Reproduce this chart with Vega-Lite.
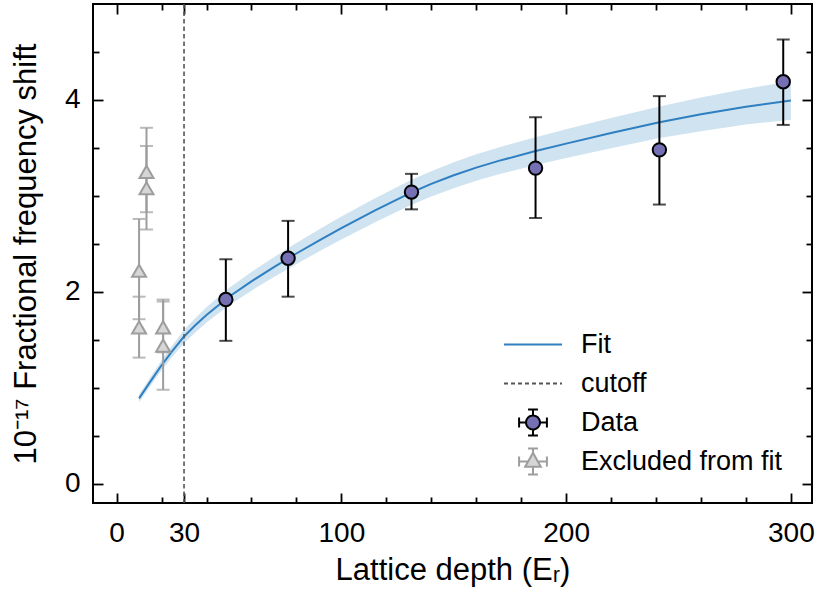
{
  "$schema": "https://vega.github.io/schema/vega-lite/v6.json",
  "width": 719,
  "height": 499,
  "autosize": {"type": "none"},
  "padding": {"left": 93, "top": 4, "right": 6, "bottom": 91},
  "background": "white",
  "datasets": {
    "fit": [
      {"x": 10, "y": 0.89, "lo": 0.85, "hi": 0.93},
      {"x": 15, "y": 1.065, "lo": 1.02, "hi": 1.11},
      {"x": 20, "y": 1.235, "lo": 1.183, "hi": 1.287},
      {"x": 25, "y": 1.39, "lo": 1.33, "hi": 1.45},
      {"x": 30, "y": 1.535, "lo": 1.467, "hi": 1.603},
      {"x": 35, "y": 1.652, "lo": 1.578, "hi": 1.726},
      {"x": 40, "y": 1.76, "lo": 1.68, "hi": 1.84},
      {"x": 50, "y": 1.95, "lo": 1.86, "hi": 2.04},
      {"x": 60, "y": 2.11, "lo": 2.013, "hi": 2.207},
      {"x": 70, "y": 2.258, "lo": 2.154, "hi": 2.362},
      {"x": 80, "y": 2.4, "lo": 2.29, "hi": 2.51},
      {"x": 90, "y": 2.535, "lo": 2.42, "hi": 2.65},
      {"x": 100, "y": 2.665, "lo": 2.545, "hi": 2.785},
      {"x": 115, "y": 2.85, "lo": 2.725, "hi": 2.975},
      {"x": 131, "y": 3.035, "lo": 2.905, "hi": 3.165},
      {"x": 140, "y": 3.125, "lo": 2.993, "hi": 3.257},
      {"x": 150, "y": 3.215, "lo": 3.08, "hi": 3.35},
      {"x": 160, "y": 3.295, "lo": 3.157, "hi": 3.433},
      {"x": 170, "y": 3.365, "lo": 3.225, "hi": 3.505},
      {"x": 186, "y": 3.465, "lo": 3.32, "hi": 3.61},
      {"x": 200, "y": 3.545, "lo": 3.395, "hi": 3.695},
      {"x": 220, "y": 3.655, "lo": 3.498, "hi": 3.812},
      {"x": 241, "y": 3.765, "lo": 3.6, "hi": 3.93},
      {"x": 260, "y": 3.85, "lo": 3.675, "hi": 4.025},
      {"x": 280, "y": 3.93, "lo": 3.743, "hi": 4.117},
      {"x": 300, "y": 3.995, "lo": 3.795, "hi": 4.195}
    ],
    "data": [
      {"x": 48.6, "y": 1.92, "lo": 1.49, "hi": 2.34},
      {"x": 76.3, "y": 2.35, "lo": 1.95, "hi": 2.74},
      {"x": 131.2, "y": 3.04, "lo": 2.86, "hi": 3.23},
      {"x": 186.4, "y": 3.29, "lo": 2.77, "hi": 3.82},
      {"x": 241.5, "y": 3.48, "lo": 2.91, "hi": 4.04},
      {"x": 296.6, "y": 4.19, "lo": 3.74, "hi": 4.63}
    ],
    "excluded": [
      {"x": 10, "y": 2.22, "lo": 1.715, "hi": 2.76},
      {"x": 10, "y": 1.63, "lo": 1.315, "hi": 1.95},
      {"x": 13.3, "y": 3.25, "lo": 2.83, "hi": 3.71},
      {"x": 13.3, "y": 3.08, "lo": 2.65, "hi": 3.52},
      {"x": 20.7, "y": 1.63, "lo": 1.37, "hi": 1.92},
      {"x": 20.7, "y": 1.44, "lo": 0.98, "hi": 1.9}
    ],
    "cutoff": [{"x": 30}],
    "legend": [
      {"series": "Fit"},
      {"series": "cutoff"},
      {"series": "Data"},
      {"series": "Excluded from fit"}
    ]
  },
  "resolve": {"axis": {"x": "independent", "y": "independent"}},
  "layer": [
    {
      "data": {"name": "fit"},
      "mark": {"type": "area", "color": "#cfe3f0", "opacity": 1},
      "encoding": {
        "x": {"field": "x", "type": "quantitative",
          "scale": {"domain": [-10.5, 309.4], "nice": false, "zero": false},
          "axis": {"orient": "bottom", "values": [0, 30, 100, 200, 300], "tickSize": -10, "labelPadding": 26, "labelFontSize": 28, "labelFlush": false, "labelOverlap": false, "title": "Lattice depth (Eᵣ)", "titleFontSize": 31, "titlePadding": 8}},
        "y": {"field": "lo", "type": "quantitative",
          "scale": {"domain": [-0.2, 5.0], "nice": false, "zero": false},
          "axis": {"orient": "left", "values": [0, 2, 4], "tickSize": -10, "labelPadding": 23, "labelFontSize": 28, "labelOverlap": false, "title": "10⁻¹⁷ Fractional frequency shift", "titleFontSize": 31, "titlePadding": 22}},
        "y2": {"field": "hi"}
      }
    },
    {
      "data": {"name": "fit"},
      "mark": {"type": "line", "color": "#2f7fc1", "strokeWidth": 2},
      "encoding": {
        "x": {"field": "x", "type": "quantitative",
          "scale": {"domain": [-10.5, 309.4], "nice": false, "zero": false},
          "axis": {"orient": "bottom", "values": [20, 40, 60, 80, 120, 140, 160, 180, 220, 240, 260, 280], "tickSize": -6, "labels": false, "title": null}},
        "y": {"field": "y", "type": "quantitative",
          "scale": {"domain": [-0.2, 5.0], "nice": false, "zero": false},
          "axis": {"orient": "left", "values": [0.5, 1, 1.5, 2.5, 3, 3.5, 4.5], "tickSize": -6, "labels": false, "title": null}}
      }
    },
    {
      "data": {"name": "cutoff"},
      "mark": {"type": "rule", "color": "#555555", "strokeWidth": 1.6, "strokeDash": [4.5, 3]},
      "encoding": {
        "x": {"field": "x", "type": "quantitative",
          "scale": {"domain": [-10.5, 309.4], "nice": false, "zero": false},
          "axis": {"orient": "top", "values": [0, 30, 100, 200, 300], "tickSize": -10, "labels": false, "title": null}}
      }
    },
    {
      "data": {"name": "excluded"},
      "mark": {"type": "rule", "color": "#9d9d9d", "strokeWidth": 2},
      "encoding": {
        "x": {"field": "x", "type": "quantitative",
          "scale": {"domain": [-10.5, 309.4], "nice": false, "zero": false},
          "axis": {"orient": "top", "values": [20, 40, 60, 80, 120, 140, 160, 180, 220, 240, 260, 280], "tickSize": -6, "labels": false, "title": null}},
        "y": {"field": "lo", "type": "quantitative",
          "scale": {"domain": [-0.2, 5.0], "nice": false, "zero": false},
          "axis": {"orient": "right", "values": [0, 2, 4], "tickSize": -10, "labels": false, "title": null}},
        "y2": {"field": "hi"}
      }
    },
    {
      "data": {"name": "excluded"},
      "transform": [{"fold": ["lo", "hi"], "as": ["bound", "v"]}],
      "mark": {"type": "tick", "orient": "horizontal", "color": "#9d9d9d", "size": 13, "thickness": 2},
      "encoding": {
        "x": {"field": "x", "type": "quantitative",
          "scale": {"domain": [-10.5, 309.4], "nice": false, "zero": false}, "axis": null},
        "y": {"field": "v", "type": "quantitative",
          "scale": {"domain": [-0.2, 5.0], "nice": false, "zero": false},
          "axis": {"orient": "right", "values": [0.5, 1, 1.5, 2.5, 3, 3.5, 4.5], "tickSize": -6, "labels": false, "title": null}}
      }
    },
    {
      "data": {"name": "excluded"},
      "mark": {"type": "point", "shape": "triangle-up", "filled": true, "fill": "#d6d6d6", "stroke": "#9d9d9d", "strokeWidth": 2, "size": 196, "opacity": 1},
      "encoding": {
        "x": {"field": "x", "type": "quantitative",
          "scale": {"domain": [-10.5, 309.4], "nice": false, "zero": false}, "axis": null},
        "y": {"field": "y", "type": "quantitative",
          "scale": {"domain": [-0.2, 5.0], "nice": false, "zero": false}, "axis": null}
      }
    },
    {
      "data": {"name": "data"},
      "mark": {"type": "rule", "color": "#000000", "strokeWidth": 2},
      "encoding": {
        "x": {"field": "x", "type": "quantitative",
          "scale": {"domain": [-10.5, 309.4], "nice": false, "zero": false}, "axis": null},
        "y": {"field": "lo", "type": "quantitative",
          "scale": {"domain": [-0.2, 5.0], "nice": false, "zero": false}, "axis": null},
        "y2": {"field": "hi"}
      }
    },
    {
      "data": {"name": "data"},
      "transform": [{"fold": ["lo", "hi"], "as": ["bound", "v"]}],
      "mark": {"type": "tick", "orient": "horizontal", "color": "#000000", "size": 13, "thickness": 2},
      "encoding": {
        "x": {"field": "x", "type": "quantitative",
          "scale": {"domain": [-10.5, 309.4], "nice": false, "zero": false}, "axis": null},
        "y": {"field": "v", "type": "quantitative",
          "scale": {"domain": [-0.2, 5.0], "nice": false, "zero": false}, "axis": null}
      }
    },
    {
      "data": {"name": "data"},
      "mark": {"type": "point", "shape": "circle", "filled": true, "fill": "#7570b3", "stroke": "#000000", "strokeWidth": 2, "size": 180, "opacity": 1},
      "encoding": {
        "x": {"field": "x", "type": "quantitative",
          "scale": {"domain": [-10.5, 309.4], "nice": false, "zero": false}, "axis": null},
        "y": {"field": "y", "type": "quantitative",
          "scale": {"domain": [-0.2, 5.0], "nice": false, "zero": false}, "axis": null}
      }
    },
    {
      "data": {"name": "legend"},
      "mark": {"type": "point", "filled": true, "opacity": 0, "strokeWidth": 2},
      "encoding": {
        "fill": {"field": "series", "type": "nominal",
          "scale": {"domain": ["Fit", "cutoff", "Data", "Excluded from fit"], "range": ["#2f7fc1", "#555555", "#7570b3", "#d6d6d6"]},
          "legend": {"title": null, "orient": "none", "legendX": 410, "legendY": 321, "padding": 0, "labelFont": "Liberation Sans", "labelFontSize": 27, "labelLimit": 500, "labelColor": "#000000", "symbolSize": 3364, "symbolStrokeWidth": 2, "symbolFillColor": "#ffffff", "symbolStrokeColor": "#000000", "labelOffset": 18, "clipHeight": 39, "rowPadding": 0}},
        "stroke": {"field": "series", "type": "nominal",
          "scale": {"domain": ["Fit", "cutoff", "Data", "Excluded from fit"], "range": ["#2f7fc1", "#555555", "#000000", "#9d9d9d"]},
          "legend": {"title": null, "orient": "none", "legendX": 410, "legendY": 321, "padding": 0, "labelFont": "Liberation Sans", "labelFontSize": 27, "labelLimit": 500, "labelColor": "#000000", "symbolSize": 3364, "symbolStrokeWidth": 2, "symbolFillColor": "#ffffff", "symbolStrokeColor": "#000000", "labelOffset": 18, "clipHeight": 39, "rowPadding": 0}},
        "shape": {"field": "series", "type": "nominal",
          "scale": {"domain": ["Fit", "cutoff", "Data", "Excluded from fit"], "range": [
            "M-1,0H1",
            "M-1,0H1",
            "M0.24,0A0.24,0.24,0,1,1,-0.24,0A0.24,0.24,0,1,1,0.24,0Z M0,-0.45V-0.24 M0,0.24V0.45 M-0.48,0H-0.24 M0.24,0H0.48 M-0.17,-0.45H0.17 M-0.17,0.45H0.17 M-0.48,-0.17V0.17 M0.48,-0.17V0.17",
            "M0,-0.3L0.27,0.18L-0.27,0.18Z M0,-0.45V-0.3 M0,0.18V0.45 M-0.48,0H-0.17 M0.17,0H0.48 M-0.17,-0.45H0.17 M-0.17,0.45H0.17 M-0.48,-0.17V0.17 M0.48,-0.17V0.17"
          ]},
          "legend": {"title": null, "orient": "none", "legendX": 410, "legendY": 321, "padding": 0, "labelFont": "Liberation Sans", "labelFontSize": 27, "labelLimit": 500, "labelColor": "#000000", "symbolSize": 3364, "symbolStrokeWidth": 2, "symbolFillColor": "#ffffff", "symbolStrokeColor": "#000000", "labelOffset": 18, "clipHeight": 39, "rowPadding": 0}},
        "strokeDash": {"field": "series", "type": "nominal",
          "scale": {"domain": ["Fit", "cutoff", "Data", "Excluded from fit"], "range": [[1, 0], [4, 3], [1, 0], [1, 0]]},
          "legend": {"title": null, "orient": "none", "legendX": 410, "legendY": 321, "padding": 0, "labelFont": "Liberation Sans", "labelFontSize": 27, "labelLimit": 500, "labelColor": "#000000", "symbolSize": 3364, "symbolStrokeWidth": 2, "symbolFillColor": "#ffffff", "symbolStrokeColor": "#000000", "labelOffset": 18, "clipHeight": 39, "rowPadding": 0}}
      }
    }
  ],
  "config": {
    "view": {"stroke": "#000000", "strokeWidth": 2},
    "axis": {
      "domain": false,
      "grid": false,
      "tickColor": "#000000",
      "tickWidth": 1.8,
      "labelFont": "Liberation Sans",
      "labelFontSize": 28,
      "labelColor": "#000000",
      "titleFont": "Liberation Sans",
      "titleFontSize": 31,
      "titleFontWeight": "normal",
      "titleColor": "#000000"
    }
  }
}
